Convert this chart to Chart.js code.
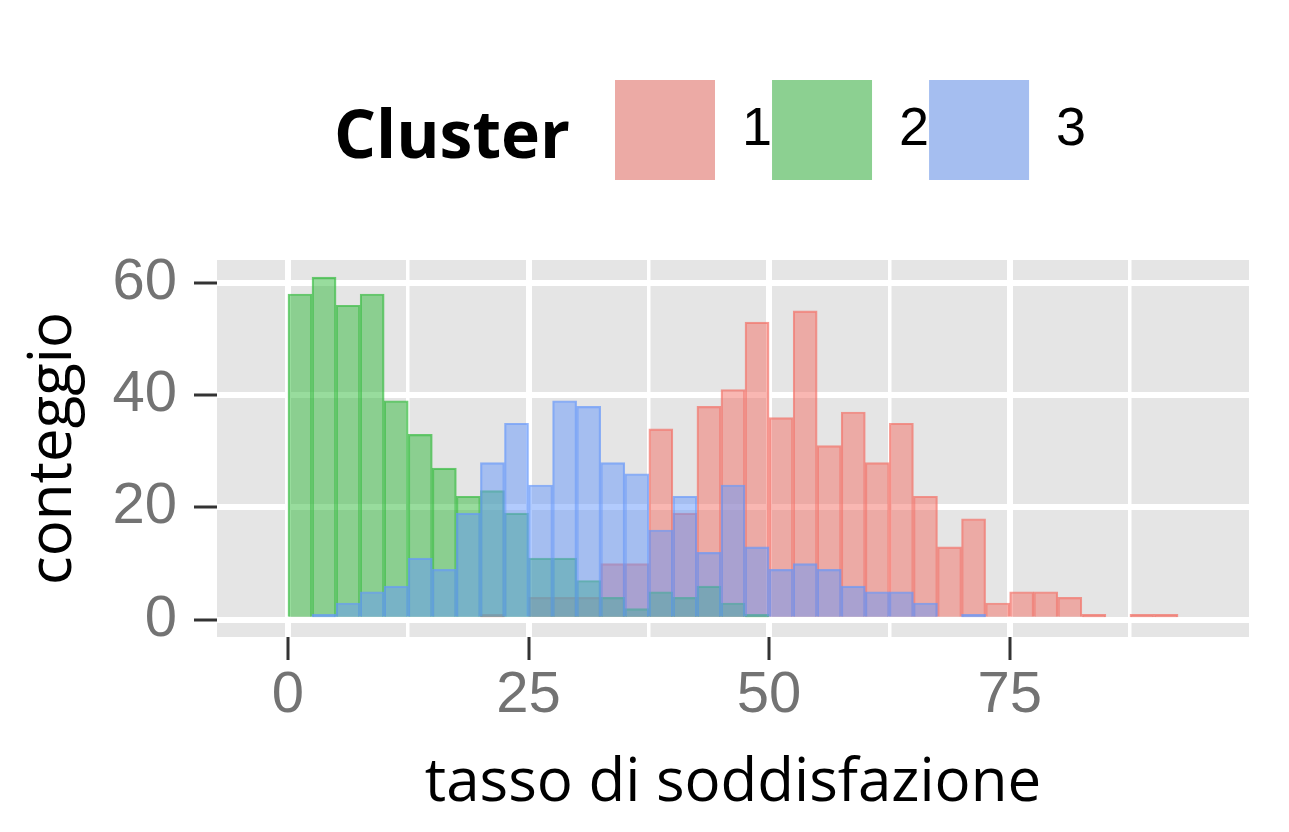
<!DOCTYPE html>
<html>
<head>
<meta charset="utf-8">
<title>Cluster - tasso di soddisfazione</title>
<script src="https://cdn.jsdelivr.net/npm/chart.js@4.4.1/dist/chart.umd.min.js"></script>
<style>
  html, body { margin: 0; padding: 0; background: #fff; }
  #wrap { width: 1289px; height: 832px; position: relative; }
</style>
</head>
<body>
<div id="wrap"><canvas id="histChart"></canvas></div>
<script>
// histogram bins, width 2.5
const binCenters = [-1.25, 1.25, 3.75, 6.25, 8.75, 11.25, 13.75, 16.25, 18.75, 21.25,
    23.75, 26.25, 28.75, 31.25, 33.75, 36.25, 38.75, 41.25, 43.75, 46.25,
    48.75, 51.25, 53.75, 56.25, 58.75, 61.25, 63.75, 66.25, 68.75, 71.25,
    73.75, 76.25, 78.75, 81.25, 83.75, 86.25, 88.75, 91.25, 93.75];

const cluster1 = [0, 0, 0, 0, 0, 0, 0, 0, 0, 1,
    0, 4, 4, 4, 10, 10, 34, 19, 38, 41,
    53, 36, 55, 31, 37, 28, 35, 22, 13, 18,
    3, 5, 5, 4, 1, 0, 1, 1, 0];
const cluster2 = [0, 58, 61, 56, 58, 39, 33, 27, 22, 23,
    19, 11, 11, 7, 4, 2, 5, 4, 6, 3,
    1, 0, 0, 0, 0, 0, 0, 0, 0, 0,
    0, 0, 0, 0, 0, 0, 0, 0, 0];
const cluster3 = [0, 0, 1, 3, 5, 6, 11, 9, 19, 28,
    35, 24, 39, 38, 28, 26, 16, 22, 12, 24,
    13, 9, 10, 9, 6, 5, 5, 3, 0, 1,
    0, 0, 0, 0, 0, 0, 0, 0, 0];

const clusterNames = ['1', '2', '3'];
const xTickLabels = [0, 25, 50, 75];
const xGridValues = [0, 12.5, 25, 37.5, 50, 62.5, 75, 87.5];
const yTickLabels = [0, 20, 40, 60];
const yGridValues = [0, 10, 20, 30, 40, 50, 60];

// ggplot hues
const clusterRgb = ['243,111,101', '50,186,60', '101,151,251'];
const PANEL_GREY = 229;
const LEGEND_X = 615;
const LEGEND_Y = 80;

const toPoints = (values) => binCenters.map((x, i) => ({ x: x, y: values[i] }));

function onGrey(rgb, a) {
    return 'rgb(' + rgb.split(',').map(c => Math.round(a * c + (1 - a) * PANEL_GREY)).join(',') + ')';
}

const tickFont = { family: '"Liberation Sans", Arial, sans-serif', size: 58 };
const titleFont = { family: '"Open Sans", sans-serif', size: 60 };

const panelPlugin = {
    id: 'panel',
    beforeDraw(chart) {
        const { ctx, chartArea: a } = chart;
        ctx.save();
        ctx.fillStyle = 'rgb(229,229,229)';
        ctx.fillRect(a.left, a.top, a.right - a.left, a.bottom - a.top);
        ctx.restore();
        // legend sits to the right of its title, like ggplot
        chart.legend.left = LEGEND_X;
        chart.legend.top = LEGEND_Y;
    },
    afterDraw(chart) {
        const ctx = chart.ctx;
        ctx.save();
        ctx.font = 'bold 66px "Open Sans", sans-serif';
        ctx.fillStyle = '#000';
        ctx.textAlign = 'right';
        ctx.textBaseline = 'alphabetic';
        ctx.fillText('Cluster', LEGEND_X - 45, 158);
        ctx.restore();
    }
};

const datasets = [cluster1, cluster2, cluster3].map((values, i) => ({
    label: clusterNames[i],
    data: toPoints(values),
    backgroundColor: 'rgba(' + clusterRgb[i] + ',0.5)',
    borderColor: 'rgba(' + clusterRgb[i] + ',0.7)',
    borderWidth: 1.5,
    grouped: false,
    barPercentage: 1,
    categoryPercentage: 1,
    order: 3 - i
}));

const ctx = document.getElementById('histChart').getContext('2d');

new Chart(ctx, {
    type: 'bar',
    data: { datasets: datasets },
    plugins: [panelPlugin],
    options: {
        responsive: true,
        maintainAspectRatio: false,
        animation: false,
        layout: { padding: { left: 0, right: 40, top: 150, bottom: 0 } },
        scales: {
            x: {
                type: 'linear',
                min: -7.375,
                max: 99.875,
                offset: false,
                afterBuildTicks: function (axis) {
                    axis.ticks = xGridValues.map(v => ({ value: v }));
                },
                afterFit: function (scale) {
                    scale.height = 195;
                },
                border: { display: false },
                grid: {
                    offset: false,
                    color: '#fff',
                    lineWidth: c => (xTickLabels.includes(c.tick.value) ? 6 : 3.5),
                    tickColor: c => (xTickLabels.includes(c.tick.value) ? '#333' : 'rgba(0,0,0,0)'),
                    tickLength: 23,
                    tickWidth: 3
                },
                ticks: {
                    autoSkip: false,
                    maxRotation: 0,
                    padding: 1,
                    color: '#737373',
                    font: tickFont,
                    callback: function (value) {
                        return xTickLabels.includes(value) ? String(value) : '';
                    }
                },
                title: {
                    display: true,
                    text: 'tasso di soddisfazione',
                    color: '#000',
                    font: titleFont,
                    padding: { top: 0, bottom: 12 }
                }
            },
            y: {
                min: -3.05,
                max: 64.05,
                afterBuildTicks: function (axis) {
                    axis.ticks = yGridValues.map(v => ({ value: v }));
                },
                afterFit: function (scale) {
                    scale.width = 217;
                },
                border: { display: false },
                grid: {
                    color: '#fff',
                    lineWidth: c => (yTickLabels.includes(c.tick.value) ? 6 : 3.5),
                    tickColor: c => (yTickLabels.includes(c.tick.value) ? '#333' : 'rgba(0,0,0,0)'),
                    tickLength: 23,
                    tickWidth: 3
                },
                ticks: {
                    padding: 17,
                    color: '#737373',
                    font: tickFont,
                    callback: function (value) {
                        return yTickLabels.includes(value) ? String(value) : '';
                    }
                },
                title: {
                    display: true,
                    text: 'conteggio',
                    color: '#000',
                    font: titleFont,
                    padding: { top: 18, bottom: 0 }
                }
            }
        },
        plugins: {
            tooltip: { enabled: false },
            legend: {
                position: 'top',
                align: 'start',
                labels: {
                    boxWidth: 100,
                    boxHeight: 100,
                    padding: 0,
                    color: '#000',
                    font: { family: '"Liberation Sans", Arial, sans-serif', size: 54 },
                    sort: (a, b) => a.datasetIndex - b.datasetIndex,
                    generateLabels: function (chart) {
                        const items = Chart.defaults.plugins.legend.labels.generateLabels(chart);
                        return items.map(item => Object.assign(item, {
                            fillStyle: onGrey(clusterRgb[item.datasetIndex], 0.5),
                            lineWidth: 0,
                            strokeStyle: 'rgba(0,0,0,0)'
                        }));
                    }
                }
            }
        }
    }
});
</script>
</body>
</html>
